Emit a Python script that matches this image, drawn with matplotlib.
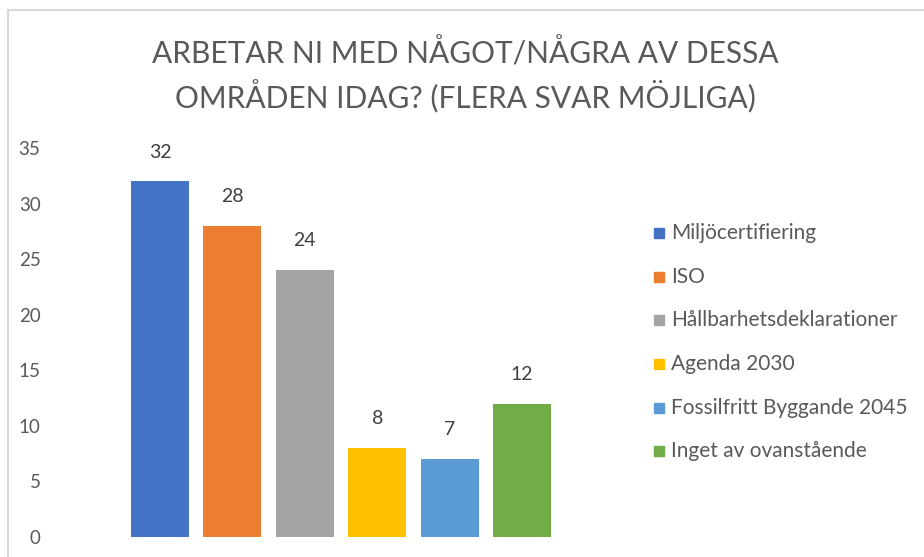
import matplotlib
matplotlib.use("Agg")
import matplotlib.pyplot as plt
from matplotlib.patches import Rectangle

categories = ["Miljöcertifiering", "ISO", "Hållbarhetsdeklarationer", "Agenda 2030",
              "Fossilfritt Byggande 2045", "Inget av ovanstående"]
values = [32, 28, 24, 8, 7, 12]
colors = ["#4472C4", "#ED7D31", "#A5A5A5", "#FFC000", "#5B9BD5", "#70AD47"]
yticks = [0, 5, 10, 15, 20, 25, 30, 35]
title = "ARBETAR NI MED NÅGOT/NÅGRA AV DESSA\nOMRÅDEN IDAG? (FLERA SVAR MÖJLIGA)"

plt.rcParams['font.family'] = ['Lato', 'DejaVu Sans']
W, H = 924, 557
fig = plt.figure(figsize=(W / 100, H / 100), dpi=100)

# chart border (light gray), cropped at right/bottom
fig.patches.append(Rectangle((8 / W, -0.1), 1.2, 1 - 10 / H + 0.1, transform=fig.transFigure,
                             fill=False, edgecolor="#D9D9D9", linewidth=1.5))

left, right = 60, 622
top, bottom = 148, 537
ax = fig.add_axes([left / W, 1 - bottom / H, (right - left) / W, (bottom - top) / H])

x = list(range(len(values)))
bars = ax.bar(x, values, width=0.8, color=colors)
for xi, v in zip(x, values):
    ax.annotate(str(v), (xi, v), xytext=(0, 15), textcoords="offset points",
                ha="center", va="bottom", fontsize=14, color="#404040")

ax.set_ylim(0, 35)
ax.set_xlim(-1.38, 6.38)
ax.set_yticks(yticks)
ax.set_xticks([])
ax.tick_params(axis="y", length=0, labelsize=13.5, labelcolor="#595959", pad=14)
for s in ax.spines.values():
    s.set_visible(False)

fig.text(465 / W, 1 - 75 / H, title, ha="center", va="center", fontsize=21.5,
         color="#595959", linespacing=1.4)

# legend
ys = [233, 277, 320, 364, 408, 451]
for lab, c, yy in zip(categories, colors, ys):
    fig.patches.append(Rectangle((654 / W, 1 - (yy + 5) / H), 10 / W, 10 / H,
                                 transform=fig.transFigure, color=c))
    fig.text(671 / W, 1 - yy / H, lab, ha="left", va="center", fontsize=15, color="#595959")

fig.savefig("out.png", dpi=100)
